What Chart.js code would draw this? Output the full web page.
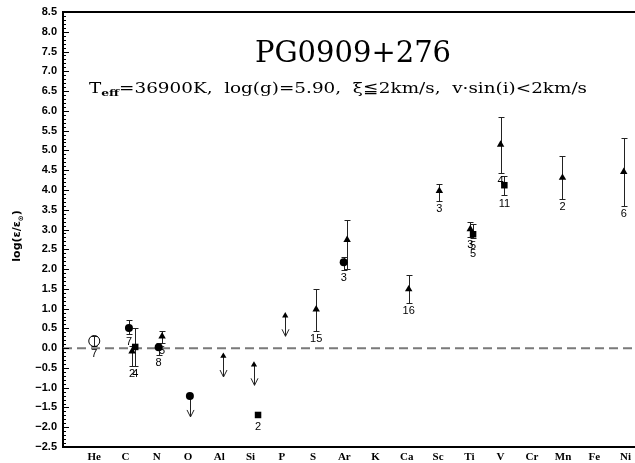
<!DOCTYPE html>
<html>
<head>
<meta charset="utf-8">
<script src="https://cdn.jsdelivr.net/npm/chart.js@4.4.0/dist/chart.umd.min.js"></script>
<style>
  body { margin: 0; background: #fff; }
  canvas { display: block; }
</style>
</head>
<body>
<canvas id="grafico" width="635" height="463"></canvas>
<script>
// elementos no eixo x
const elementos = ["He", "C", "N", "O", "Al", "Si", "P", "S", "Ar", "K", "Ca", "Sc", "Ti", "V", "Cr", "Mn", "Fe", "Ni"];

// circulo aberto (He)
const heX = [0];
const heY = [0.18];
const heHi = [0.31];
const heLo = [0.05];
const heLab = ["7"];

// circulos cheios
const circX = [1.11, 2.06, 3.06, 7.98];
const circY = [0.51, 0.02, -1.21, 2.17];
const circHi = [0.71, 0.13, null, 2.30];
const circLo = [0.35, -0.18, null, 1.97];
const circLim = [null, null, -1.74, null];
const circLab = ["7", "8", "", "3"];

// triangulos
const triX = [1.21, 2.17, 7.10, 8.09, 10.06, 11.04, 12.03, 13.00, 14.98, 16.94];
const triY = [-0.08, 0.30, 0.98, 2.74, 1.49, 3.98, 3.01, 5.15, 4.31, 4.46];
const triHi = [0.05, 0.43, 1.49, 3.23, 1.84, 4.15, 3.18, 5.85, 4.86, 5.32];
const triLo = [-0.46, 0.13, 0.43, 2.00, 1.13, 3.73, 2.80, 4.43, 3.76, 3.59];
const triLab = ["2", "5", "15", "", "16", "3", "3", "4", "2", "6"];

// quadrados
const quadX = [1.31, 5.24, 12.12, 13.12];
const quadY = [0.03, -1.69, 2.88, 4.12];
const quadHi = [0.51, null, 3.13, 4.36];
const quadLo = [-0.46, null, 2.78, 3.86];
const quadLab = ["4", "2", "5\n5", "11"];

// limites superiores (triangulo + seta)
const limX = [4.13, 5.11, 6.11];
const limY = [-0.20, -0.42, 0.82];
const limAte = [-0.73, -0.94, 0.30];

function montarPontos(xs, ys, his, los, labs, lims) {
  return xs.map((x, i) => ({
    x: x,
    y: ys[i],
    hi: his ? his[i] : null,
    lo: los ? los[i] : null,
    lab: labs ? labs[i] : "",
    lim: lims ? lims[i] : null,
  }));
}

const fonteNum = "11px 'Liberation Sans', Arial, sans-serif";

const desenhos = {
  id: "desenhos",
  beforeDatasetsDraw(chart) {
    const ctx = chart.ctx;
    const xs = chart.scales.x;
    const ys = chart.scales.y;
    const area = chart.chartArea;

    // linha tracejada no zero
    ctx.save();
    ctx.strokeStyle = "#7a7a7a";
    ctx.lineWidth = 2;
    ctx.setLineDash([9, 5]);
    ctx.beginPath();
    const y0 = ys.getPixelForValue(0);
    ctx.moveTo(area.left, y0);
    ctx.lineTo(area.right, y0);
    ctx.stroke();
    ctx.restore();

    // barras de erro e setas
    ctx.save();
    ctx.strokeStyle = "#222";
    ctx.lineWidth = 1;
    chart.data.datasets.forEach((ds) => {
      ds.data.forEach((p) => {
        const px = Math.round(xs.getPixelForValue(p.x)) + 0.5;
        if (p.hi != null) {
          const t = Math.round(ys.getPixelForValue(p.hi)) + 0.5;
          const b = Math.round(ys.getPixelForValue(p.lo)) + 0.5;
          ctx.beginPath();
          ctx.moveTo(px, t);
          ctx.lineTo(px, b);
          ctx.moveTo(px - 3, t);
          ctx.lineTo(px + 3, t);
          ctx.moveTo(px - 3, b);
          ctx.lineTo(px + 3, b);
          ctx.stroke();
        }
        if (p.lim != null) {
          const t = ys.getPixelForValue(p.y);
          const b = ys.getPixelForValue(p.lim);
          ctx.beginPath();
          ctx.moveTo(px, t);
          ctx.lineTo(px, b);
          ctx.moveTo(px - 3.5, b - 7);
          ctx.lineTo(px, b);
          ctx.lineTo(px + 3.5, b - 7);
          ctx.stroke();
        }
      });
    });
    ctx.restore();
  },
  afterDatasetsDraw(chart) {
    const ctx = chart.ctx;
    const xs = chart.scales.x;
    const ys = chart.scales.y;
    ctx.save();
    ctx.fillStyle = "#000";
    ctx.font = fonteNum;
    ctx.textAlign = "center";
    ctx.textBaseline = "middle";
    chart.data.datasets.forEach((ds) => {
      ds.data.forEach((p) => {
        if (!p.lab) return;
        const px = xs.getPixelForValue(p.x);
        let base;
        if (p.lo != null) base = ys.getPixelForValue(p.lo);
        else base = ys.getPixelForValue(p.y) + ds.pointRadius * 0.8;
        p.lab.split("\n").forEach((linha, k) => {
          ctx.fillText(linha, px, base + 8 + k * 8);
        });
      });
    });
    ctx.restore();
  },
  afterDraw(chart) {
    const ctx = chart.ctx;
    const ys = chart.scales.y;
    const area = chart.chartArea;

    // linha de cima
    ctx.save();
    ctx.strokeStyle = "#000";
    ctx.lineWidth = 2;
    ctx.beginPath();
    ctx.moveTo(area.left - 1, area.top);
    ctx.lineTo(area.right, area.top);
    ctx.stroke();

    // tiques para dentro
    ctx.lineWidth = 1;
    ctx.beginPath();
    for (let i = 0; i <= 110; i++) {
      const v = -2.5 + i * 0.1;
      const py = Math.round(ys.getPixelForValue(v)) + 0.5;
      const len = i % 5 === 0 ? 6 : 3;
      ctx.moveTo(area.left, py);
      ctx.lineTo(area.left + len, py);
    }
    ctx.stroke();

    // titulo
    ctx.fillStyle = "#000";
    ctx.textAlign = "center";
    ctx.textBaseline = "alphabetic";
    ctx.font = "29px 'DejaVu Serif', serif";
    ctx.fillText("PG0909+276", 353, 62);

    // subtitulo com subscrito (esticado na horizontal)
    const fonteSub = "15px 'DejaVu Serif', serif";
    const fontePeq = "bold 10px 'DejaVu Serif', serif";
    const resto = "=36900K,  log(g)=5.90,  \u03BE\u22662km/s,  v\u00B7sin(i)<2km/s";
    ctx.font = fonteSub;
    const wT = ctx.measureText("T").width;
    const wR = ctx.measureText(resto).width;
    ctx.font = fontePeq;
    const wE = ctx.measureText("eff").width;
    const total = wT + wE + wR;
    const esticar = 498 / total;
    ctx.textAlign = "left";
    ctx.save();
    ctx.translate(338, 0);
    ctx.scale(esticar, 1);
    let x = -total / 2;
    ctx.font = fonteSub;
    ctx.fillText("T", x, 93);
    x += wT;
    ctx.font = fontePeq;
    ctx.fillText("eff", x, 96);
    x += wE;
    ctx.font = fonteSub;
    ctx.fillText(resto, x, 93);
    ctx.restore();

    // titulo do eixo y
    ctx.translate(20, 236);
    ctx.rotate(-Math.PI / 2);
    const fY = "bold 11px 'DejaVu Sans', sans-serif";
    const fYp = "bold 7px 'DejaVu Sans', sans-serif";
    ctx.font = fY;
    const a1 = ctx.measureText("log(\u03B5/\u03B5").width;
    const a3 = ctx.measureText(")").width;
    ctx.font = fYp;
    const a2 = ctx.measureText("\u2299").width;
    let xx = -(a1 + a2 + a3) / 2;
    ctx.font = fY;
    ctx.fillText("log(\u03B5/\u03B5", xx, 0);
    xx += a1;
    ctx.font = fYp;
    ctx.fillText("\u2299", xx, 3);
    xx += a2;
    ctx.font = fY;
    ctx.fillText(")", xx, 0);
    ctx.restore();
  },
};

const ctx = document.getElementById("grafico").getContext("2d");
const grafico = new Chart(ctx, {
  type: "scatter",
  data: {
    datasets: [
      {
        data: montarPontos(heX, heY, heHi, heLo, heLab),
        pointStyle: "circle",
        pointRadius: 5.5,
        backgroundColor: "rgba(0,0,0,0)",
        borderColor: "#000",
        borderWidth: 1,
      },
      {
        data: montarPontos(circX, circY, circHi, circLo, circLab, circLim),
        pointStyle: "circle",
        pointRadius: 4,
        backgroundColor: "#000",
        borderColor: "#000",
        borderWidth: 0,
      },
      {
        data: montarPontos(triX, triY, triHi, triLo, triLab),
        pointStyle: "triangle",
        pointRadius: 4.3,
        backgroundColor: "#000",
        borderColor: "#000",
        borderWidth: 0,
      },
      {
        data: montarPontos(quadX, quadY, quadHi, quadLo, quadLab),
        pointStyle: "rect",
        pointRadius: 4.6,
        backgroundColor: "#000",
        borderColor: "#000",
        borderWidth: 0,
      },
      {
        data: montarPontos(limX, limY, null, null, null, limAte),
        pointStyle: "triangle",
        pointRadius: 3.6,
        backgroundColor: "#000",
        borderColor: "#000",
        borderWidth: 0,
      },
    ],
  },
  options: {
    responsive: false,
    animation: false,
    devicePixelRatio: 1,
    layout: { autoPadding: false, padding: { top: 12, right: 0, left: 0, bottom: 0 } },
    plugins: { legend: { display: false }, tooltip: { enabled: false } },
    scales: {
      x: {
        type: "linear",
        min: -1,
        max: 17.3,
        grid: { display: false, drawTicks: false },
        border: { display: true, color: "#000", width: 2 },
        afterBuildTicks: (scale) => {
          scale.ticks = elementos.map((_, i) => ({ value: i }));
        },
        afterFit: (scale) => {
          scale.height = 16;
          scale.paddingLeft = 0;
          scale.paddingRight = 0;
        },
        ticks: {
          padding: 4,
          color: "#000",
          autoSkip: false,
          maxRotation: 0,
          font: { family: "'Liberation Serif', serif", size: 11, weight: "bold" },
          callback: (v) => elementos[v] || "",
        },
      },
      y: {
        min: -2.5,
        max: 8.5,
        grid: { display: false, drawTicks: false },
        border: { display: true, color: "#000", width: 2 },
        afterFit: (scale) => {
          scale.width = 63;
          scale.paddingTop = 0;
          scale.paddingBottom = 0;
        },
        ticks: {
          stepSize: 0.5,
          padding: 6,
          color: "#000",
          font: { family: "'Liberation Sans', Arial, sans-serif", size: 11, weight: "bold" },
          callback: (v) => v.toFixed(1).replace("-", "\u2212"),
        },
      },
    },
  },
  plugins: [desenhos],
});
</script>
</body>
</html>
